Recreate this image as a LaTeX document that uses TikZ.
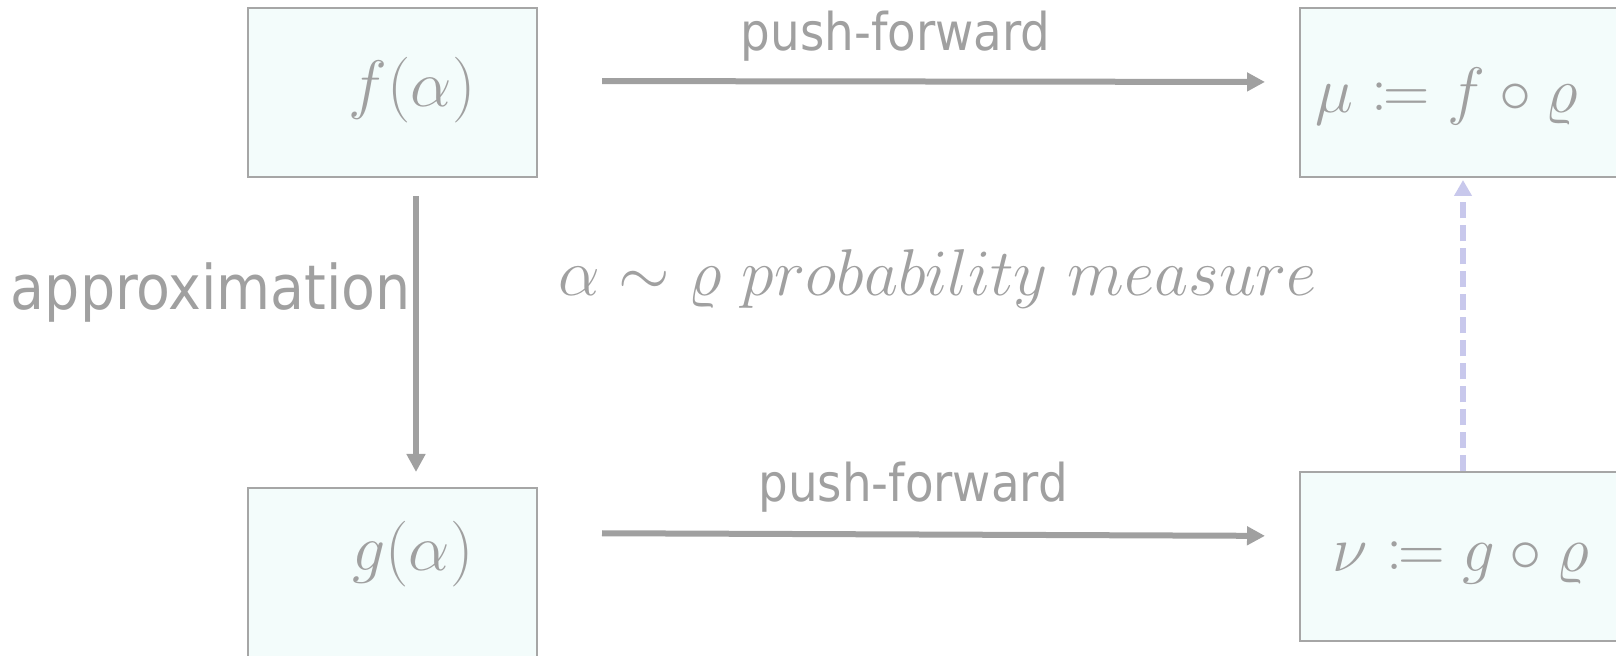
\documentclass[tikz,border=0pt]{standalone}
\usepackage{fontspec}
\usepackage{mathtools}
\newfontfamily\labelfont{DejaVu Sans Condensed}
\usetikzlibrary{positioning, arrows.meta}
\definecolor{linegray}{RGB}{160,160,160}
\definecolor{framegray}{RGB}{166,166,166}
\definecolor{boxfill}{RGB}{243,252,251}
\definecolor{dashblue}{RGB}{200,200,236}
\newcommand{\bigmath}[2]{\scalebox{#1}{$#2$}}

\begin{document}
\begin{tikzpicture}[
    x=0.5pt, y=-0.5pt,
    box/.style={rectangle, draw=framegray, line width=1pt, fill=boxfill, minimum height=84.5pt, inner sep=0pt},
    mapto/.style={-{Triangle[length=9pt,width=9pt]}, line width=3pt, draw=linegray},
    lift/.style={-{Triangle[length=8pt,width=8.5pt]}, line width=2.7pt, draw=dashblue, dash pattern=on 8pt off 3.5pt},
    tag/.style={text=linegray, font=\labelfont\fontsize{26}{30}\selectfont, inner sep=0pt},
    formula/.style={text=linegray, font=\Huge, inner sep=0pt}
  ]
  \useasboundingbox (0,0) rectangle (1616,656);

  % boxes
  \node[box, minimum width=144.5pt] (fbox) at (392.5,92.5) {};
  \node[box, minimum width=144.5pt] (gbox) at (392.5,572.5) {};
  \node[box, minimum width=163pt] (mubox) at (1463,92.5) {};
  \node[box, minimum width=163pt] (nubox) at (1463,557) {};

  % box contents
  \node[formula] (ftext) at (412,90) {\bigmath{1.32}{f(\alpha)}};
  \node[formula] (gtext) at (413,554) {\bigmath{1.32}{g(\alpha)}};
  \node[formula, anchor=base] (mutext) at (1447,113) {\bigmath{1.29}{\mu \coloneqq f \circ \varrho}};
  \node[formula, anchor=base] (nutext) at (1461,572) {\bigmath{1.3}{\nu \coloneqq g \circ \varrho}};

  % measure
  \node[formula, anchor=base] (measure) at (938,296)
    {\bigmath{1.33}{\alpha \sim \varrho\ probability\ measure}};

  % maps
  \draw[mapto, shorten <=32pt, shorten >=17pt] ([yshift=5.75pt]fbox.east)
    -- node[tag, above=8.5pt, pos=0.47] (pushtop) {push-forward} ([yshift=5.25pt]mubox.west);
  \draw[mapto, shorten <=32pt, shorten >=17pt] ([yshift=19.75pt]gbox.east)
    -- node[tag, above=9.5pt, pos=0.493] (pushbot) {push-forward} ([yshift=10.5pt]nubox.west);
  \draw[mapto, shorten <=9pt, shorten >=7.5pt] ([xshift=11.75pt]fbox.south)
    -- node[tag, font=\labelfont\fontsize{30.8}{36}\selectfont, anchor=base east, xshift=-1pt, pos=0.424] (approx) {approximation}
    ([xshift=11.75pt]gbox.north);

  % lift
  \draw[lift, shorten >=1pt] (nubox.north) -- (mubox.south);

\end{tikzpicture}
\end{document}
